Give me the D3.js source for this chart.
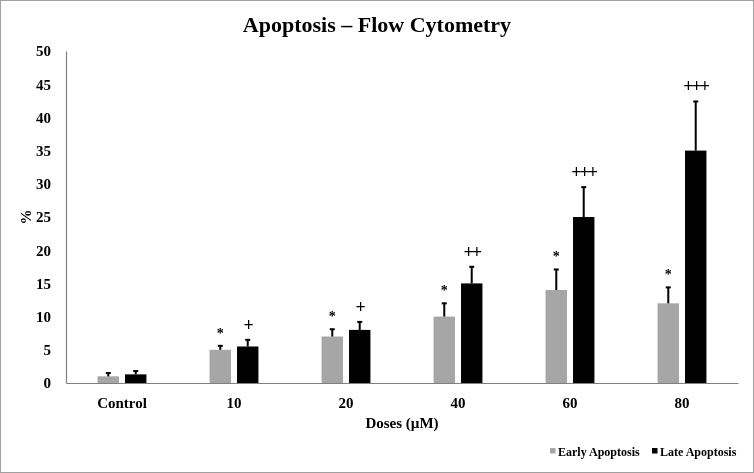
<!DOCTYPE html>
<html><head><meta charset="utf-8">
<script src="https://cdn.jsdelivr.net/npm/d3@7"></script>
<style>body{margin:0;background:#fff}svg{display:block;font-family:"Liberation Serif","Times New Roman",serif;will-change:transform}</style>
</head><body><svg id="c" width="754" height="473"></svg>
<script>
const categories = ["Control","10","20","40","60","80"];
const earlyValues = [1.0, 5.0, 7.0, 10.0, 14.0, 12.0];
const earlyErrors = [0.5, 0.6, 1.1, 2.0, 3.1, 2.4];
const lateValues = [1.3, 5.5, 8.0, 15.0, 25.0, 35.0];
const lateErrors = [0.5, 1.0, 1.2, 2.5, 4.5, 7.4];
const earlyMarks = ["", "*", "*", "*", "*", "*"];
const lateMarks = ["", "+", "+", "++", "+++", "+++"];
const yTicks = [0,5,10,15,20,25,30,35,40,45,50];
const seriesNames = ["Early Apoptosis","Late Apoptosis"];
const colors = ["#a6a6a6","#000000"];

const svg = d3.select("#c");
const W=754,H=473;
const m={l:66,r:16,t:51,b:90};
svg.append("rect").attr("x",0.5).attr("y",0.5).attr("width",W-1).attr("height",H-1).attr("fill","#fff").attr("stroke","#a0a0a0");

const x = d3.scaleBand().domain(categories).range([m.l, W-m.r]).paddingInner(0).paddingOuter(0);
const y = d3.scaleLinear().domain([0,50]).range([H-m.b, m.t]);
const series = d3.scaleBand().domain([0,1]).range([0, x.bandwidth()]).paddingInner(0.22).paddingOuter(1.15);

// y axis
const ya = svg.append("g").attr("transform",`translate(${m.l},0)`)
  .call(d3.axisLeft(y).tickValues(yTicks).tickSize(0).tickPadding(15));
ya.select(".domain").attr("stroke","#808080").attr("stroke-width",1.2);
ya.selectAll("text").attr("font-family","Liberation Serif").attr("font-weight","bold").attr("font-size",15).attr("fill","#000");

// x axis
const xa = svg.append("g").attr("transform",`translate(0,${y(0)})`)
  .call(d3.axisBottom(x).tickSize(0).tickPadding(14));
xa.select(".domain").attr("stroke","#808080").attr("stroke-width",1.2);
xa.selectAll("text").attr("font-family","Liberation Serif").attr("font-weight","bold").attr("font-size",15).attr("fill","#000");

const data = categories.map((c,i)=>[
  {c, s:0, v:earlyValues[i], e:earlyErrors[i], m:earlyMarks[i]},
  {c, s:1, v:lateValues[i], e:lateErrors[i], m:lateMarks[i]}
]).flat();

const g = svg.append("g");
g.selectAll("rect.bar").data(data).join("rect").attr("class","bar")
  .attr("x",d=>x(d.c)+series(d.s)).attr("width",series.bandwidth())
  .attr("y",d=>y(d.v)).attr("height",d=>y(0)-y(d.v)).attr("fill",d=>colors[d.s]);

// error bars
g.selectAll("line.err").data(data).join("line").attr("class","err")
  .attr("x1",d=>x(d.c)+series(d.s)+series.bandwidth()/2).attr("x2",d=>x(d.c)+series(d.s)+series.bandwidth()/2)
  .attr("y1",d=>y(d.v)).attr("y2",d=>y(d.v+d.e)).attr("stroke","#000").attr("stroke-width",2);
g.selectAll("line.cap").data(data).join("line").attr("class","cap")
  .attr("x1",d=>x(d.c)+series(d.s)+series.bandwidth()/2-2.5).attr("x2",d=>x(d.c)+series(d.s)+series.bandwidth()/2+2.5)
  .attr("y1",d=>y(d.v+d.e)).attr("y2",d=>y(d.v+d.e)).attr("stroke","#000").attr("stroke-width",2);

// significance marks
g.selectAll("text.mark").data(data.filter(d=>d.m)).join("text").attr("class","mark")
  .attr("x",d=>x(d.c)+series(d.s)+series.bandwidth()/2)
  .attr("y",d=>y(d.v+d.e)-(d.s===0?8:9))
  .attr("text-anchor","middle").attr("font-family","Liberation Serif").attr("font-weight","bold")
  .attr("font-size",d=>d.s===0?14:18).attr("fill","#000")
  .attr("letter-spacing",d=>d.s===1?-2:0)
  .text(d=>d.m);

// title
svg.append("text").attr("x",W/2).attr("y",32).attr("text-anchor","middle")
  .attr("font-family","Liberation Serif").attr("font-weight","bold").attr("font-size",22).text("Apoptosis – Flow Cytometry");
// y label
svg.append("text").attr("transform",`translate(31,${(y(0)+y(50))/2}) rotate(-90)`).attr("text-anchor","middle")
  .attr("font-family","Liberation Serif").attr("font-weight","bold").attr("font-size",15).text("%");
// x label
svg.append("text").attr("x",(m.l+W-m.r)/2).attr("y",428).attr("text-anchor","middle")
  .attr("font-family","Liberation Serif").attr("font-weight","bold").attr("font-size",15).text("Doses (µM)");

// legend
const lg = svg.append("g");
const lx=[550,652];
seriesNames.forEach((n,i)=>{
  lg.append("rect").attr("x",lx[i]).attr("y",448).attr("width",5.5).attr("height",5.5).attr("fill",colors[i]);
  lg.append("text").attr("x",lx[i]+8).attr("y",455.5).attr("font-family","Liberation Serif").attr("font-weight","bold").attr("font-size",12).text(n);
});
</script></body></html>
